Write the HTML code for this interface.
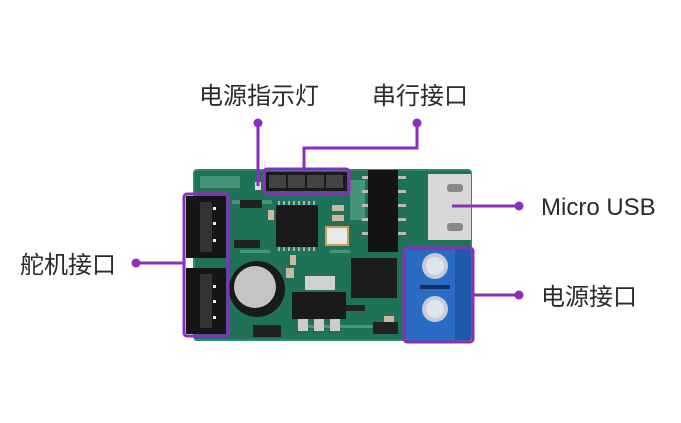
<!DOCTYPE html>
<html><head><meta charset="utf-8"><style>
html,body{margin:0;padding:0;background:#fff;width:681px;height:423px;overflow:hidden}
svg{display:block}
text{font-family:"Liberation Sans","Noto Sans CJK SC",sans-serif;fill:#2a2a2a}
</style></head><body>
<svg width="681" height="423" viewBox="0 0 681 423" xmlns="http://www.w3.org/2000/svg">
<!-- board -->
<rect x="194" y="170" width="277" height="170" rx="3" fill="#1f7258"/>
<rect x="194" y="170" width="277" height="170" rx="3" fill="none" stroke="#2f8a6c" stroke-width="2"/>
<!-- traces/specks -->
<g fill="#5fae8e" opacity="0.6">
<rect x="200" y="176" width="40" height="12"/><rect x="232" y="200" width="40" height="4"/>
<rect x="240" y="250" width="30" height="3"/><rect x="330" y="250" width="20" height="3"/>
<rect x="300" y="325" width="80" height="3"/><rect x="350" y="180" width="15" height="40"/>
</g>
<!-- header -->
<rect x="266" y="172" width="81" height="19" fill="#1a1a1a"/>
<g fill="#444"><rect x="269" y="175" width="17" height="13"/><rect x="288" y="175" width="17" height="13"/><rect x="307" y="175" width="17" height="13"/><rect x="326" y="175" width="17" height="13"/></g>
<rect x="255" y="182" width="6" height="8" fill="#ddd"/>
<!-- servo connectors -->
<rect x="186" y="196" width="40" height="62" fill="#151515"/>
<rect x="186" y="268" width="40" height="66" fill="#151515"/>
<rect x="200" y="202" width="12" height="50" fill="#333"/><rect x="200" y="274" width="12" height="54" fill="#333"/>
<g fill="#eee"><rect x="213" y="207" width="3" height="3"/><rect x="213" y="222" width="3" height="3"/><rect x="213" y="239" width="3" height="3"/><rect x="213" y="285" width="3" height="3"/><rect x="213" y="300" width="3" height="3"/><rect x="213" y="316" width="3" height="3"/></g>
<!-- small parts -->
<g fill="#222"><rect x="240" y="200" width="22" height="8"/><rect x="234" y="240" width="26" height="8"/><rect x="253" y="325" width="28" height="12"/><rect x="373" y="322" width="25" height="12"/><rect x="345" y="305" width="20" height="6"/></g>
<g fill="#c9b9a0"><rect x="268" y="210" width="6" height="10"/><rect x="290" y="255" width="6" height="10"/><rect x="332" y="205" width="12" height="6"/><rect x="332" y="215" width="12" height="6"/><rect x="286" y="268" width="8" height="10"/><rect x="384" y="316" width="10" height="6"/></g>
<!-- main IC -->
<rect x="276" y="205" width="42" height="42" fill="#1a1a1a"/>
<g stroke="#ccc" stroke-width="1.5"><path d="M279 201v4M284 201v4M289 201v4M294 201v4M299 201v4M304 201v4M309 201v4M314 201v4M279 247v4M284 247v4M289 247v4M294 247v4M299 247v4M304 247v4M309 247v4M314 247v4"/></g>
<!-- crystal -->
<rect x="325" y="226" width="24" height="20" fill="#c8a050"/><rect x="327" y="228" width="20" height="16" fill="#e8e8e8"/>
<!-- CH340 -->
<rect x="368" y="170" width="30" height="82" fill="#141414"/>
<g fill="#bbb"><rect x="362" y="176" width="6" height="3"/><rect x="362" y="190" width="6" height="3"/><rect x="362" y="204" width="6" height="3"/><rect x="362" y="218" width="6" height="3"/><rect x="362" y="232" width="6" height="3"/><rect x="398" y="176" width="8" height="3"/><rect x="398" y="190" width="8" height="3"/><rect x="398" y="204" width="8" height="3"/><rect x="398" y="218" width="8" height="3"/><rect x="398" y="232" width="8" height="3"/></g>
<!-- MCU -->
<rect x="351" y="258" width="46" height="40" fill="#1c1c1c"/>
<!-- capacitor -->
<circle cx="257" cy="289" r="28" fill="#1a1a1a"/><circle cx="255" cy="287" r="21" fill="#c4c4c4"/>
<!-- regulator -->
<rect x="305" y="276" width="30" height="14" fill="#d0d0d0"/>
<rect x="292" y="292" width="54" height="27" fill="#1a1a1a"/>
<g fill="#ccc"><rect x="298" y="319" width="10" height="12"/><rect x="314" y="319" width="10" height="12"/><rect x="330" y="319" width="10" height="12"/></g>
<!-- USB -->
<rect x="428" y="174" width="43" height="66" fill="#d8d8d8"/>
<rect x="447" y="184" width="16" height="8" rx="3" fill="#888"/><rect x="447" y="223" width="16" height="8" rx="3" fill="#888"/>
<!-- terminal block -->
<rect x="406" y="250" width="65" height="90" fill="#2a6cc4"/>
<rect x="455" y="250" width="16" height="90" fill="#1f5aa8"/>
<rect x="420" y="285" width="30" height="4" fill="#16305a"/>
<circle cx="435" cy="266" r="13" fill="#c5ccd6"/><circle cx="435" cy="309" r="13" fill="#c5ccd6"/>
<circle cx="435" cy="266" r="9" fill="#dfe5ec"/><circle cx="435" cy="309" r="9" fill="#dfe5ec"/>
<!-- purple callouts -->
<g stroke="#8a2ec0" fill="none" stroke-width="3">
<rect x="264" y="169" width="85" height="25" rx="3"/>
<rect x="184" y="194" width="44" height="142" rx="3"/>
<rect x="404" y="248" width="69" height="94" rx="3"/>
<path d="M258 122V186"/>
<path d="M417 122V148H304V169"/>
<path d="M136 263H184"/>
<path d="M452 206H519"/>
<path d="M473 295H519"/>
</g>
<g fill="#8a2ec0"><circle cx="258" cy="123" r="4.5"/><circle cx="417" cy="123" r="4.5"/><circle cx="136" cy="263" r="4.5"/><circle cx="519" cy="206" r="4.5"/><circle cx="519" cy="295" r="4.5"/></g>
<text x="199" y="104" font-size="24">电源指示灯</text>
<text x="372" y="104" font-size="24">串行接口</text>
<text x="20" y="273" font-size="24">舵机接口</text>
<text x="541" y="215" font-size="24">Micro USB</text>
<text x="541" y="305" font-size="24">电源接口</text>
</svg>
</body></html>
